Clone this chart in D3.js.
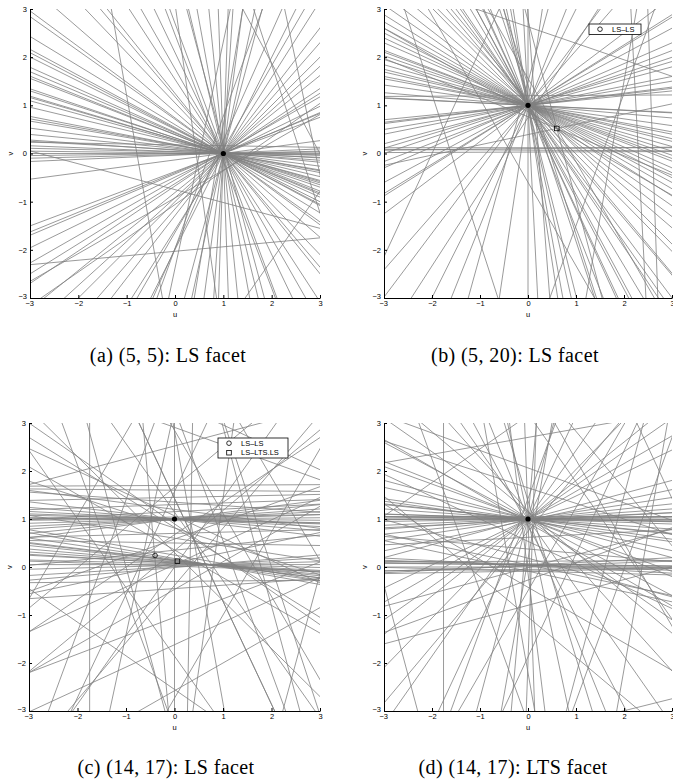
<!DOCTYPE html>
<html>
<head>
<meta charset="utf-8">
<script src="https://cdn.jsdelivr.net/npm/d3@7"></script>
<style>
  body { margin: 0; background: #fff; }
  svg text { font-family: "Liberation Sans", Arial, sans-serif; fill: #000; }
  .caption { font-family: "Liberation Serif", "Times New Roman", serif; }
</style>
</head>
<body>
<div id="chart"></div>
<script>
// =====================================
// DATA  (each line: [u, v, angle in degrees] = a point it passes and its direction)
// =====================================

const ticks = [-3, -2, -1, 0, 1, 2, 3];

const captions = [
  "(a) (5, 5): LS facet",
  "(b) (5, 20): LS facet",
  "(c) (14, 17): LS facet",
  "(d) (14, 17): LTS facet"
];

const linesA = [
  [1,0,-36.5],[1,0,-35.4],[0.9,0.05,-31.4],[1,0,-28.4],[0.95,0.02,-27.7],[1,0,-26.6],
  [0.85,0.06,-24.2],[1,0,-23],[0.9,0.03,-22],[1,0,-21.3],[0.8,0.05,-18.8],[1,0,-18],
  [0.7,0.08,-16.7],[1,0,-16.2],[0.9,0.02,-15.4],[1,0,-13.5],[0.6,0.07,-11],[1,0,-10.2],
  [0.8,0.03,-9.6],[1,0,-7.5],[0.7,0.04,-5.5],[1,0,-4],
  [1,0,-2.3],[0.6,0.02,-1.4],[1,0,-0.7],[1,0,0],[0.5,0,0.7],[1,0,1.4],[0.8,0,2.5],
  [1,0,7.6],[0,0.08,-3.3],[0,0.18,-1],
  [1,0,20.6],[0.9,-0.03,22.3],[1,0,23],[1,0,26.1],[0.85,-0.06,29.9],[1,0,32],[1,0,34],
  [1,0,39],[0.9,-0.1,42.3],[1,0,45],[1,0,49],[0.8,-0.25,52.4],[1,0,57.7],[1,0,63.4],
  [0.7,-0.4,66],[1,0,75],[1,0,77.7],[0.85,-0.3,80.5],[1,0,82.4],[1,0,86.2],[1,0,88.1],
  [0.6,-0.6,60],[0.5,-0.6,70],
  [1,0,-84.3],[1,0,-79.7],[1.1,-0.2,-75],[1,0,-69.7],[1,0,-64.5],[1,0,-60.4],[1,0,-51.3],
  [1,0,-46.4],[1,0,-41],[1,0,-49.7],[1,0,-57],[0.9,0.1,-69.2],[1,0,-76.5],[1,0,-88],
  [0,-2.03,5.3],[0,-0.75,-15],[0.4,-0.5,78],[0.55,-0.8,-82],[2.6,0,-72],[2.8,0.5,-78],
  [2.2,1.5,-62],[-1,1.2,-80],[-0.2,-1.2,35],[-1,-1.5,30],[2.5,-1.5,55]
];

const linesB = [
  [0,1,-32.1],[0,1,-30],[0,1,-28.1],[0.1,0.95,-26.6],[0,1,-25],[0,1,-23.4],[-0.1,1.03,-21],
  [0,1,-20.2],[-0.3,1.1,-19],[0,1,-17.6],[0.05,0.98,-15.8],[0,1,-14],[0,1,-13],[0,1,-11.3],
  [0,1,-10.4],[0,1,-8],[0,1,-5],[0,1,-3],
  [0,1,32.1],[0,1,28.1],[0,1,23.4],[0.3,1.1,21],[0,1,18.4],[-0.2,0.95,16.7],[0,1,14.9],[0,1,9.5],
  [0,1,6.7],[0,1,5.7],[0,1,7.2],[0,1,11.3],[0,1,31.4],[0,1,36.9],[0,1,48.7],[0,1,53],
  [0.1,0.9,57],[0,1,63.4],[0,1,68.2],[-0.15,0.95,74.5],[0,1,81.5],[0,1,90],
  [0.15,0.95,-85.6],[0,1,-79.7],[0,1,-75.8],[0.2,0.8,-72.1],[0,1,-68.6],[0,1,-65.3],
  [-0.1,1.15,-62.1],[0,1,-59],[0,1,-54.8],[0.2,0.85,-50],[0,1,-45.3],[0.15,0.9,-40.6],
  [0,1,-37.6],[0,1,-34.8],[0,1,-87.1],[0,1,-81.2],[0,1,-77.3],[0.1,0.9,-71.7],
  [-0.05,1.1,-64.8],[0,1,-61.6],[0,1,-55.8],[0,1,-53.1],[0,1,-49.6],
  [0,0.12,0],[0,0.07,-0.3],[0,0.03,0.2],[0,0.1,0.6],[0,1,-2.8],[0,1.2,0.3],
  [0.6,0.52,-30],[0.6,0.52,-22],[0.6,0.52,-45],[0.6,0.52,-60],[0.6,0.52,12],[0.6,0.52,-75],
  [0,2.63,-18.9],[2.3,0,-87],[2.6,0,-88],[-1.6,0,-72],[-2,0,65],[1,-1.5,70],[2,1.5,80],
  [-1.5,2,-60]
];

const linesC = [
  [0,1,-3],[0,1,-1.5],[0,1,-0.5],[0,1,0.5],[0,1,1.7],[0,1,2.9],[0,1,4],[0,1,5.7],[0,1,7.4],
  [0,1,-4.6],[0,1,-6.8],[-0.5,1.02,-2],[0.5,1.05,1],[-1,1.1,3],[1,0.95,-1],
  [0,1.2,-7.5],[0,1.35,-4],[0,1.7,0.3],[0,1.6,-0.5],[0,1.3,2],[0,1.45,1.2],
  [0.7,0.05,-3],[0.7,0.05,-5],[0.7,0.05,-6.8],[0.7,0.05,-8.5],[0.7,0.05,-10.2],[0.5,0.08,-7],
  [0.7,0.05,-1.5],[0.7,0.05,0],[0.7,0.05,1.5],[0.9,0.04,-4],[0.3,0.1,-6],[0.7,0.05,3.5],
  [0.5,0,-2],[1,0.02,-3.5],[0.7,0.05,5],
  [0,0.5,-1],[0,0.7,1.5],[0,-0.3,0.5],[0,-0.45,4],[0,0.6,-9],[0,0.35,6],
  [-3,3,-35],[-3,2.7,-32],[-2,2,-25],[-1,-0.5,40],[-3,-2.2,30],[-3,-2.2,21],[-3,-1.35,25],
  [-3,-1.35,34],[0,0,55],[1,-1,60],[2,2,50],[2.5,1,-60],[1.5,-1,-55],[-1.75,0,90],[0,0,90],
  [0.32,0,89],[-2.6,-3,70],[-1,0,-75],[-0.7,0,78],[0.5,0,-80],[0.8,0,82],[1.2,0,-70],
  [1.6,-2,-65],[2,0,-72],[2.5,-2,75],[2.8,-2,-60],[-0.5,2.5,-65],[0.2,2,65],[1,2.5,40],
  [-2,1,-55],[-1.5,-1.5,-35],[1,-2,30],[2,-0.8,-30],[-0.3,-1,-85],[0.6,-0.3,-45],
  [1.7,1.2,20],[-2.5,0.2,60],[0.3,2.8,-20],[-1.2,2.2,15],[2.2,2.4,-25],
  [-2,0.6,-10],[1.5,0.4,12],[-1.5,1.3,-18],[2.4,-0.5,25],[-0.5,-2,-70],[1.3,1.8,-75]
];

const linesD = [
  [0,1,-4],[0,1,-2],[0,1,-1],[0,1,0],[0,1,1],[0,1,2.5],[0,1,4],[0,1,6],[0,1,-6],[0,1,-8],
  [-0.5,1.05,0],[0.5,1,3],[0,0.98,-0.3],[-1.5,1,0.5],[1.5,1,-0.5],[0,1.02,-1.5],
  [0,1,-21.8],[0,1,-20],[0,1,-12.4],[0,1,-5.7],[0,1,8.5],[0,1,25.6],[0,1,35],[0,1,38.7],
  [0,1,45.9],[0,1,15],[0,1,-15],[0,1,-28],[0,1,-35],[0,1,30],
  [0.1,0.9,88],[0,1,85],[0.2,1.3,80],[0,1,75],[-0.3,0.6,70],[0,1,65],[0.4,0.2,60],[0,1,55],
  [0,1,-88],[-0.2,1.5,-83],[0,1,-78],[0.3,0.4,-73],[0,1,-68],[-0.5,1.8,-62],[0,1,-55],
  [0.6,0.5,-48],
  [0,0,0],[0,0.05,-0.5],[0,-0.05,0.5],[1,0,-2],[1,0.05,-1],[0,0.12,0.3],[-0.5,0,2],
  [1.5,-0.05,-3],[1.2,0.1,3],[0.5,-0.1,-1.5],[2,0,-1],[2,-0.05,1],
  [-1.76,0,90],[0,2.7,10],[2.5,-2.87,14],[-3,0.55,-12],[-2,-1,20],[1,-1,-30],[2,0.5,-60],
  [1.2,-1.5,75],[-1,-0.5,-70],[0.5,-0.8,65],[2.2,-1,80],[-0.3,-0.5,-80],[1,1.7,-20],
  [-2.5,1.7,-25],[-2,2.3,-18],[2.5,2.5,-65],[2.7,0.8,-50],[-2.3,-2,50],[1.5,-2.3,-40],
  [0.8,0.2,15],[-1.2,0.3,-12],
  [-2.5,1.3,-8],[-2,0.55,-5],[2.5,0.75,3],[2,1.4,12],[-1,1.5,-30],[1,0.3,-40],
  [-1.5,-1.2,15],[1.8,-0.3,-15],[-0.8,2.6,35],[0.7,2.2,-55],[2.6,1.6,70],[-2.7,-1.5,-75]
];

// filled dot per panel
const hubs = [[1, 0], [0, 1], [0, 1], [0, 1]];

// open markers: [u, v, shape]
const markersB = [[0.6, 0.52, "square"]];
const markersC = [[-0.4, 0.24, "circle"], [0.06, 0.12, "square"]];

const legendB = [["circle", "LS–LS"]];
const legendC = [["circle", "LS–LS"], ["square", "LS–LTS.LS"]];

// =====================================
// LAYOUT
// =====================================

const W = 673, H = 782;

const panels = [
  { lines: linesA, hub: hubs[0], markers: [], legend: null,
    x0: 30, x1: 320, y0: 9, y1: 298, capX: 168, capY: 362 },
  { lines: linesB, hub: hubs[1], markers: markersB, legend: { items: legendB, x: 589, y: 24, w: 52 },
    x0: 384, x1: 672, y0: 9, y1: 298, capX: 515, capY: 362 },
  { lines: linesC, hub: hubs[2], markers: markersC, legend: { items: legendC, x: 218, y: 438, w: 70 },
    x0: 29, x1: 320, y0: 423, y1: 711, capX: 166, capY: 774 },
  { lines: linesD, hub: hubs[3], markers: [], legend: null,
    x0: 384, x1: 672, y0: 423, y1: 711, capX: 513, capY: 774 }
];

const svg = d3.select("#chart")
  .append("svg")
  .attr("width", W)
  .attr("height", H);

function drawMarker(g, shape, cx, cy) {
  if (shape === "circle") {
    g.append("circle")
      .attr("cx", cx).attr("cy", cy).attr("r", 2.3)
      .attr("fill", "none").attr("stroke", "#000").attr("stroke-width", 0.8);
  } else {
    g.append("rect")
      .attr("x", cx - 2.3).attr("y", cy - 2.3)
      .attr("width", 4.6).attr("height", 4.6)
      .attr("fill", "none").attr("stroke", "#000").attr("stroke-width", 0.8);
  }
}

panels.forEach((p, i) => {

  const x = d3.scaleLinear().domain([-3, 3]).range([p.x0, p.x1]);
  const y = d3.scaleLinear().domain([-3, 3]).range([p.y1, p.y0]);

  const g = svg.append("g");

  // clip
  svg.append("clipPath")
    .attr("id", "clip" + i)
    .append("rect")
    .attr("x", p.x0).attr("y", p.y0)
    .attr("width", p.x1 - p.x0).attr("height", p.y1 - p.y0);

  // lines
  const L = 12;
  g.append("g")
    .attr("clip-path", `url(#clip${i})`)
    .selectAll("line")
    .data(p.lines)
    .enter()
    .append("line")
    .attr("x1", d => x(d[0] - L * Math.cos(d[2] * Math.PI / 180)))
    .attr("y1", d => y(d[1] - L * Math.sin(d[2] * Math.PI / 180)))
    .attr("x2", d => x(d[0] + L * Math.cos(d[2] * Math.PI / 180)))
    .attr("y2", d => y(d[1] + L * Math.sin(d[2] * Math.PI / 180)))
    .attr("stroke", "#808080")
    .attr("stroke-width", 0.8);

  // axes
  const fmt = d3.format("d");
  const xAxis = g.append("g")
    .attr("transform", `translate(0,${p.y1})`)
    .call(d3.axisBottom(x).tickValues(ticks).tickFormat(fmt)
      .tickSizeInner(-3).tickSizeOuter(0).tickPadding(3));

  const yAxis = g.append("g")
    .attr("transform", `translate(${p.x0},0)`)
    .call(d3.axisLeft(y).tickValues(ticks).tickFormat(fmt)
      .tickSizeInner(-3).tickSizeOuter(0).tickPadding(3));

  [xAxis, yAxis].forEach(a => {
    a.select(".domain").attr("stroke", "#000").attr("stroke-width", 1);
    a.selectAll(".tick line").attr("stroke", "#000");
    a.selectAll(".tick text")
      .attr("fill", "#000")
      .style("font-size", "7.5px")
      .style("font-family", "'Liberation Sans', Arial, sans-serif");
  });

  // nudge the corner labels apart like the reference
  yAxis.selectAll(".tick text").filter(d => d === -3).attr("dy", "0.05em");
  xAxis.selectAll(".tick text").filter(d => d === -3).attr("dx", "-0.1em");

  // axis labels
  g.append("text")
    .attr("x", (p.x0 + p.x1) / 2)
    .attr("y", p.y1 + 19)
    .attr("text-anchor", "middle")
    .style("font-size", "7.5px")
    .text("u");

  g.append("text")
    .attr("transform", `translate(${p.x0 - 17},${(p.y0 + p.y1) / 2}) rotate(-90)`)
    .attr("text-anchor", "middle")
    .style("font-size", "7.5px")
    .text("v");

  // markers
  p.markers.forEach(m => drawMarker(g, m[2], x(m[0]), y(m[1])));

  g.append("circle")
    .attr("cx", x(p.hub[0])).attr("cy", y(p.hub[1]))
    .attr("r", 2.6)
    .attr("fill", "#000");

  // legend
  if (p.legend) {
    const lg = p.legend;
    const rowH = 9.5;
    const lgG = g.append("g");
    lgG.append("rect")
      .attr("x", lg.x).attr("y", lg.y)
      .attr("width", lg.w).attr("height", lg.items.length * rowH + 1)
      .attr("fill", "#fff").attr("stroke", "#000").attr("stroke-width", 0.8);
    lg.items.forEach((it, k) => {
      const cy = lg.y + 5.2 + k * rowH;
      drawMarker(lgG, it[0], lg.x + 11, cy);
      lgG.append("text")
        .attr("x", lg.x + 23)
        .attr("y", cy + 2.6)
        .style("font-size", "7.5px")
        .text(it[1]);
    });
  }

  // caption
  svg.append("text")
    .attr("class", "caption")
    .attr("x", p.capX)
    .attr("y", p.capY)
    .attr("text-anchor", "middle")
    .style("font-size", "20px")
    .style("letter-spacing", "0.4px")
    .text(captions[i]);
});
</script>
</body>
</html>
